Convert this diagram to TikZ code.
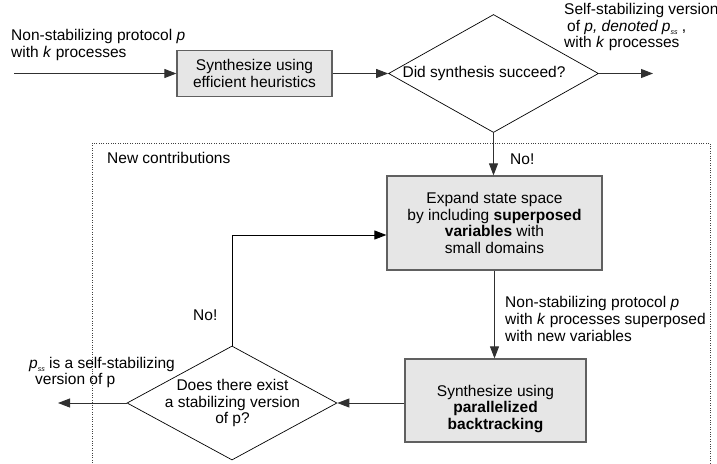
\documentclass[tikz,border=0pt]{standalone}
\usepackage{fontspec}
\setmainfont{Liberation Sans}
\usetikzlibrary{arrows.meta,shapes.geometric}
\definecolor{boxfill}{HTML}{E6E6E6}
\definecolor{boxline}{HTML}{606060}
\definecolor{lineclr}{HTML}{303030}
\newcommand{\mypss}{\raisebox{-3.5pt}{\fontsize{7}{7}\selectfont\textit{ss}}}
\begin{document}
\begin{tikzpicture}[x=1pt,y=-1pt,
  font=\fontsize{15.5}{16.6}\selectfont,
  procbox/.style={draw=boxline, fill=boxfill, line width=1.2pt, inner sep=0pt, align=center},
  decision/.style={diamond, draw=black, line width=0.7pt, inner sep=0pt},
  flow/.style={draw=lineclr, line width=0.9pt, -{Triangle[length=12pt,width=9pt]}},
  lbl/.style={inner sep=0pt, align=left, anchor=west},
  txt/.style={inner sep=0pt, align=center}]
\useasboundingbox (0,0) rectangle (717,463);
\draw[black!75, line width=0.7pt, dash pattern=on 1pt off 1.4pt] (92,143) rectangle (710,490);

% nodes
\node[procbox, minimum width=155pt, minimum height=46pt] (b1) at (254.5,73.5) {Synthesize using\\efficient heuristics};
\node[decision, minimum width=210pt, minimum height=118pt] (d1) at (493.5,73.5) {};
\node[txt] (d1t) at (484,73.5) {Did synthesis succeed?};
\node[procbox, minimum width=215pt, minimum height=94pt] (b2) at (494.5,223) {Expand state space\\by including \textbf{superposed}\\\textbf{variables} with\\small domains};
\node[procbox, minimum width=181pt, minimum height=83pt] (b3) at (495.5,400.5) {};
\node[txt] (b3t) at (495.5,409) {Synthesize using\\\textbf{parallelized}\\\textbf{backtracking}};
\node[decision, minimum width=210pt, minimum height=114pt] (d2) at (232,403) {};
\node[txt] (d2t) at (232.5,403) {Does there exist\\a stabilizing version\\of p?};

% free ends
\coordinate (in) at (14,73.5);
\coordinate (out) at (653,73.5);
\coordinate (pout) at (58,403);
\coordinate (loopy) at (0,235);

% connectors
\draw[flow] (in) -- (b1.west);
\draw[flow] (b1.east) -- (d1.west);
\draw[flow] (d1.east) -- (out);
\draw[flow] (d1.south) -- (d1.south |- b2.north);
\draw[flow] (b2.south) -- (b2.south |- b3.north);
\draw[flow] (b3.west |- d2) -- (d2.east);
\draw[flow] (d2.west) -- (pout);
\draw[flow, draw=black] (d2.north) |- (b2.west |- loopy);

% labels
\node[lbl] (inlbl) at (11,45) {Non-stabilizing protocol \textit{p}\\with \textit{k} processes};
\node[lbl] (outlbl) at (564,27) {Self-stabilizing version\\\hspace{3pt}of \textit{p, denoted p}\mypss\ ,\\with \textit{k} processes};
\node[lbl] (newc) at (107,158) {New contributions};
\node[lbl] (no1) at (510,159) {No!};
\node[lbl] (no2) at (193,315) {No!};
\node[lbl] (midlbl) at (505,319) {Non-stabilizing protocol \textit{p}\\with \textit{k} processes superposed\\with new variables};
\node[lbl] (psslbl) at (29,372.5) {\textit{p}\mypss{} is a self-stabilizing\\\hspace{6pt}version of p};
\end{tikzpicture}
\end{document}
